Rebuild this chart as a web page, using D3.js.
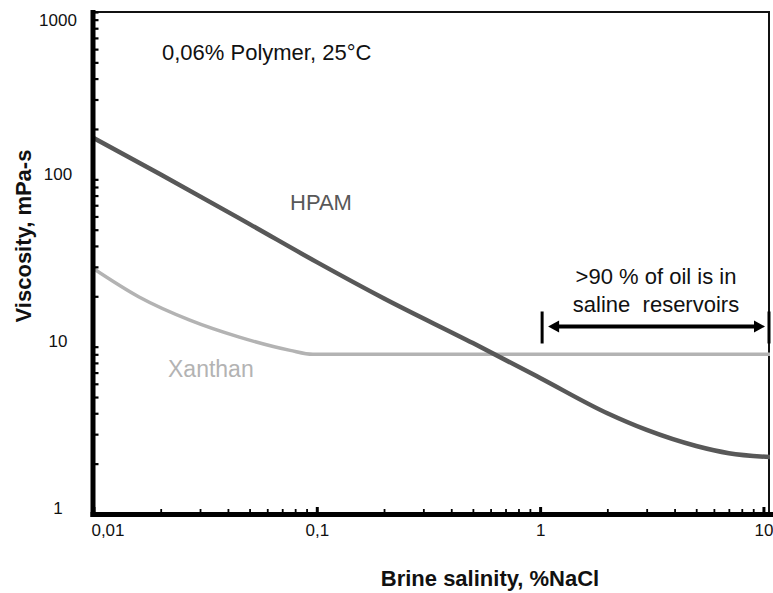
<!DOCTYPE html>
<html>
<head>
<meta charset="utf-8">
<script src="https://cdn.jsdelivr.net/npm/d3@7/dist/d3.min.js"></script>
<style>
  html, body { margin: 0; padding: 0; background: #fff; }
  svg { display: block; font-family: "Liberation Sans", Arial, Helvetica, sans-serif; }
</style>
</head>
<body>
<svg id="chart" width="773" height="593"></svg>
<script>
// Viscosity of polymer solutions (0.06 %, 25 °C) versus brine salinity
const hpamSalinity   = [0.0099, 0.02, 0.05, 0.1, 0.2, 0.5, 1, 2, 3, 5, 7, 10.7];
const hpamViscosity  = [178, 107, 54, 32, 19.4, 10.5, 6.5, 4.0, 3.18, 2.55, 2.31, 2.19];

const xanSalinity    = [0.0099, 0.016, 0.027, 0.045, 0.076, 0.096, 10.7];
const xanViscosity   = [29.5, 19.8, 14.4, 11.4, 9.5, 9.0, 9.0];

const xTicks      = [0.01, 0.1, 1, 10];
const xTickLabels = ["0,01", "0,1", "1", "10"];
const yTicks      = [1, 10, 100, 1000];
const yTickLabels = ["1", "10", "100", "1000"];

// salinity span of saline reservoirs and the viscosity level of its arrow
const reservoirSpan = [1, 10.7];
const reservoirArrowLevel = 13.2;

const svg = d3.select("#chart");

const x = d3.scaleLog().domain([0.0099, 10.7]).range([92.5, 770]);
const y = d3.scaleLog().domain([1, 1000]).range([514, 12]);

const [x0, x1] = x.range();
const [yb, yt] = y.range();

// clip for the curves
svg.append("defs").append("clipPath").attr("id", "plot")
  .append("rect").attr("x", x0).attr("y", yt).attr("width", x1 - x0).attr("height", yb - yt);

// top and right frame
svg.append("path")
  .attr("d", `M${x0},${yt}H${x1 - 1}V${yb}`)
  .attr("fill", "none").attr("stroke", "#111").attr("stroke-width", 2);

// curves
const line = d3.line().x(d => x(d[0])).y(d => y(d[1])).curve(d3.curveMonotoneX);
const curves = svg.append("g").attr("clip-path", "url(#plot)");
curves.append("path")
  .datum(xanSalinity.map((s, i) => [s, xanViscosity[i]]))
  .attr("d", line).attr("fill", "none")
  .attr("stroke", "#b3b3b3").attr("stroke-width", 3.5);
curves.append("path")
  .datum(hpamSalinity.map((s, i) => [s, hpamViscosity[i]]))
  .attr("d", line).attr("fill", "none")
  .attr("stroke", "#585858").attr("stroke-width", 4.5);

// x axis: inward ticks
const gx = svg.append("g").attr("transform", `translate(0,${yb})`)
  .call(d3.axisBottom(x).tickValues(x.ticks()).tickSize(-5).tickSizeOuter(0).tickFormat(""));
gx.select(".domain").attr("stroke", "#000").attr("stroke-width", 5).attr("stroke-linecap", "square");
gx.selectAll(".tick line").attr("stroke", "#000").attr("stroke-width", 1.8)
  .filter(d => xTicks.includes(+d.toPrecision(6))).attr("stroke-width", 3).attr("y2", -7);

// y axis: inward ticks
const gy = svg.append("g").attr("transform", `translate(${x0},0)`)
  .call(d3.axisLeft(y).tickValues(y.ticks()).tickSize(-6).tickSizeOuter(0).tickFormat(""));
gy.select(".domain").attr("stroke", "#000").attr("stroke-width", 5).attr("stroke-linecap", "square");
gy.selectAll(".tick line").attr("stroke", "#000").attr("stroke-width", 2.2);

// x tick labels
const gxl = svg.append("g").attr("transform", `translate(0,${yb})`)
  .call(d3.axisBottom(x).tickValues(xTicks).tickSize(0)
    .tickFormat((d, i) => xTickLabels[i]));
gxl.select(".domain").remove();
gxl.selectAll("text")
  .attr("y", 22).attr("dy", 0)
  .attr("font-size", 17).attr("fill", "#111")
  .attr("font-family", "'Liberation Sans', Arial, sans-serif")
  .attr("dx", (d, i) => i === 0 ? 14 : 0);

// y tick labels
const gyl = svg.append("g").attr("transform", `translate(${x0},0)`)
  .call(d3.axisLeft(y).tickValues(yTicks).tickSize(0)
    .tickFormat((d, i) => yTickLabels[i]));
gyl.select(".domain").remove();
gyl.selectAll("text")
  .attr("x", 58 - x0).attr("text-anchor", "middle")
  .attr("y", d => Math.max(y(d) - 6, 20) - y(d))
  .attr("dy", "0.35em")
  .attr("font-size", 17).attr("fill", "#111")
  .attr("font-family", "'Liberation Sans', Arial, sans-serif");

// axis titles
svg.append("text")
  .attr("x", 490).attr("y", 586).attr("text-anchor", "middle")
  .attr("font-size", 22).attr("font-weight", "bold").attr("fill", "#111")
  .text("Brine salinity, %NaCl");
svg.append("text")
  .attr("transform", "translate(31,236) rotate(-90)").attr("text-anchor", "middle")
  .attr("font-size", 22).attr("font-weight", "bold").attr("fill", "#111")
  .text("Viscosity, mPa-s");

// condition note and series labels
svg.append("text").attr("x", 162).attr("y", 60)
  .attr("font-size", 22).attr("fill", "#111")
  .text("0,06% Polymer, 25°C");
svg.append("text").attr("x", 290).attr("y", 210)
  .attr("font-size", 22).attr("fill", "#585858")
  .text("HPAM");
svg.append("text").attr("x", 168).attr("y", 377)
  .attr("font-size", 23).attr("fill", "#b3b3b3")
  .text("Xanthan");

// saline reservoir range arrow
const ay = y(reservoirArrowLevel);
const ax0 = x(reservoirSpan[0]) + 2;
const ax1 = x(reservoirSpan[1]) - 1;
const arrow = svg.append("g").attr("fill", "#000").attr("stroke", "#000");
arrow.append("line").attr("x1", ax0).attr("x2", ax0).attr("y1", ay - 15).attr("y2", ay + 17)
  .attr("stroke-width", 3);
arrow.append("line").attr("x1", ax1).attr("x2", ax1).attr("y1", ay - 15).attr("y2", ay + 17)
  .attr("stroke-width", 3);
const tipL = ax0 + 6, tipR = ax1 - 4;
arrow.append("line").attr("x1", tipL + 8).attr("x2", tipR - 8).attr("y1", ay).attr("y2", ay)
  .attr("stroke-width", 4);
arrow.append("path").attr("stroke", "none")
  .attr("d", `M${tipL},${ay}L${tipL + 11},${ay - 6}L${tipL + 11},${ay + 6}Z`);
arrow.append("path").attr("stroke", "none")
  .attr("d", `M${tipR},${ay}L${tipR - 11},${ay - 6}L${tipR - 11},${ay + 6}Z`);

svg.append("text").attr("x", 656).attr("y", 284).attr("text-anchor", "middle")
  .attr("font-size", 22).attr("fill", "#111")
  .text(">90 % of oil is in");
svg.append("text").attr("x", 656).attr("y", 312).attr("text-anchor", "middle")
  .attr("font-size", 22).attr("fill", "#111").attr("xml:space", "preserve")
  .style("white-space", "pre")
  .text("saline  reservoirs");
</script>
</body>
</html>
